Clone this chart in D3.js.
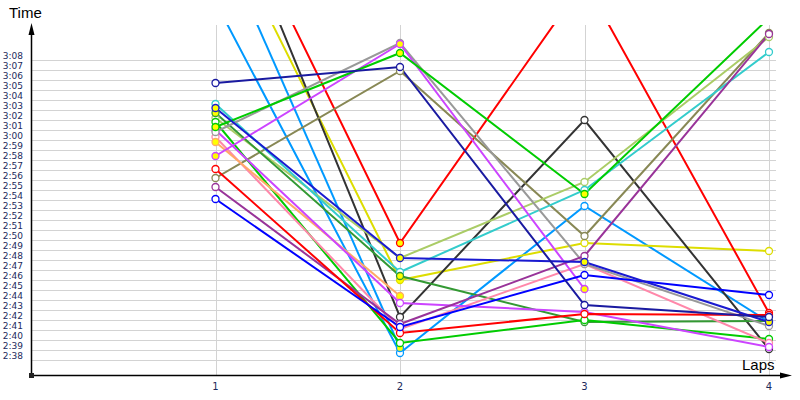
<!DOCTYPE html>
<html><head><meta charset="utf-8">
<script src="https://cdn.jsdelivr.net/npm/d3@7"></script>
<style>body{margin:0;background:#fff}svg{display:block}</style>
</head><body>
<svg id="c" width="800" height="400"></svg>
<script>
// categories
const laps = [1, 2, 3, 4];
// y ticks (seconds) 2:38 .. 3:08
const yTickSeconds = d3.range(158, 189);
// series lap times in seconds (null = no lap)
const navy       = [185.7, 187.3, 163.5, 162.3];
const blue2      = [183.2, 168.2, 167.8, 161.8];
const blue       = [174.1, 161.3, 166.5, 164.5];
const redA       = [207.4, 169.7, 195.9, 162.7];
const redB       = [177.1, 160.7, 162.6, 162.5];
const greenA     = [181.3, 188.7, 174.6, 192.2];
const greenB     = [181.8, 159.7, 162.0, 160.1];
const darkGreen  = [182.7, 166.4, 161.8, 161.9];
const yellow     = [203.0, 166.0, 169.7, 168.9];
const lightGreen = [182.2, 168.2, 175.8, 190.3];
const olive      = [176.2, 186.9, 170.4, 190.7];
const cyan       = [183.6, 166.8, 175.0, 188.8];
const lightBlueA = [193.8, 158.7, 173.4, 161.8];
const lightBlueB = [201.0, 159.2, null, null];
const gray       = [180.8, 189.7, 167.6, 161.4];
const magentaA   = [178.4, 189.6, 165.1, null];
const magentaB   = [181.0, 163.7, 162.8, 159.3];
const purple     = [175.3, 161.6, 168.4, 190.6];
const pink       = [180.3, 161.1, 167.6, 159.7];
const orange     = [179.8, 164.4, null, null];
const black      = [207.3, 162.3, 182.0, 159.1];
// laps marked with a yellow-filled marker (lap numbers)
const hlNavy = [], hlBlue2 = [1,2,3,4], hlGreenA = [1,2,3], hlDarkGreen = [1,2], hlMagentaA = [1,2,3],
      hlOrange = [1,2], hlRedA = [2], hlYellow = [2], hlLightBlueB = [2];

const series = [
  {v: lightBlueA, c: "#0099ff", hl: []},
  {v: lightBlueB, c: "#0099ff", hl: hlLightBlueB},
  {v: yellow, c: "#dddd00", hl: hlYellow},
  {v: black, c: "#333333", hl: []},
  {v: redA, c: "#ff0000", hl: hlRedA},
  {v: olive, c: "#888855", hl: []},
  {v: lightGreen, c: "#aacc66", hl: []},
  {v: cyan, c: "#33cccc", hl: []},
  {v: darkGreen, c: "#339933", hl: hlDarkGreen},
  {v: greenB, c: "#00cc00", hl: []},
  {v: pink, c: "#ff88aa", hl: []},
  {v: orange, c: "#ffaa66", hl: hlOrange},
  {v: magentaB, c: "#cc44ff", hl: []},
  {v: gray, c: "#999999", hl: []},
  {v: magentaA, c: "#cc44ff", hl: hlMagentaA},
  {v: greenA, c: "#00cc00", hl: hlGreenA},
  {v: purple, c: "#993399", hl: []},
  {v: redB, c: "#ff0000", hl: []},
  {v: blue, c: "#0000ff", hl: []},
  {v: blue2, c: "#1a1ad0", hl: hlBlue2},
  {v: navy, c: "#1a1aa0", hl: hlNavy}
];

const svg = d3.select("#c");
const x = d3.scaleLinear().domain([0, 4]).range([31, 769]);
const y = d3.scaleLinear().domain([158, 188]).range([360, 60]);
const fmt = s => Math.floor(s / 60) + ":" + String(s % 60).padStart(2, "0");

svg.append("defs").append("clipPath").attr("id", "clip")
  .append("rect").attr("x", 31).attr("y", 25).attr("width", 760).attr("height", 350);

// horizontal gridlines
svg.append("g").selectAll("line").data(yTickSeconds).join("line")
  .attr("x1", 31).attr("x2", 776).attr("y1", d => y(d)).attr("y2", d => y(d))
  .attr("stroke", "#d3d3d3").attr("stroke-width", 1).attr("shape-rendering", "crispEdges");
// vertical gridlines
svg.append("g").selectAll("line").data(laps).join("line")
  .attr("x1", d => Math.round(x(d)) + 0.5).attr("x2", d => Math.round(x(d)) + 0.5)
  .attr("y1", 25).attr("y2", 375)
  .attr("stroke", "#d3d3d3").attr("stroke-width", 1);

// y labels
svg.append("g").selectAll("text").data(yTickSeconds).join("text")
  .attr("x", 23).attr("y", d => y(d) - 1).attr("text-anchor", "end")
  .attr("font-family", "DejaVu Sans, Verdana, sans-serif").attr("font-size", 9)
  .attr("fill", "#1c2a5c").text(fmt);
// x labels
svg.append("g").selectAll("text").data(laps).join("text")
  .attr("x", d => x(d)).attr("y", 390).attr("text-anchor", "middle")
  .attr("font-family", "DejaVu Sans, Verdana, sans-serif").attr("font-size", 10)
  .attr("fill", "#1c2a5c").text(d => d);

// series
const plot = svg.append("g").attr("clip-path", "url(#clip)");
const line = d3.line().defined(d => d.t != null).x(d => x(d.lap)).y(d => y(d.t));
series.forEach(s => {
  const pts = laps.map((lap, i) => ({lap, t: s.v[i]}));
  plot.append("path").datum(pts).attr("d", line)
    .attr("fill", "none").attr("stroke", s.c).attr("stroke-width", 2);
});
series.forEach(s => {
  const pts = laps.map((lap, i) => ({lap, t: s.v[i]})).filter(d => d.t != null);
  plot.append("g").selectAll("circle").data(pts).join("circle")
    .attr("cx", d => x(d.lap)).attr("cy", d => y(d.t)).attr("r", 3.5)
    .attr("fill", d => s.hl.includes(d.lap) ? "#ffff00" : "#ffffff")
    .attr("stroke", s.c).attr("stroke-width", 1.3);
});

// axes
svg.append("line").attr("x1", 31.5).attr("x2", 31.5).attr("y1", 30).attr("y2", 375)
  .attr("stroke", "#000").attr("stroke-width", 1.5);
svg.append("line").attr("x1", 31).attr("x2", 785).attr("y1", 375.5).attr("y2", 375.5)
  .attr("stroke", "#000").attr("stroke-width", 1.5);
svg.append("path").attr("d", "M31.5,23 L28.5,35 L34.5,35 Z").attr("fill", "#000");
svg.append("path").attr("d", "M792,375.5 L780,372.5 L780,378.5 Z").attr("fill", "#000");
svg.append("rect").attr("x", 29).attr("y", 373).attr("width", 5).attr("height", 5).attr("fill", "#222");

svg.append("text").attr("x", 9).attr("y", 18).attr("font-family", "Liberation Sans, Arial, sans-serif")
  .attr("font-size", 15).attr("fill", "#000").text("Time");
svg.append("text").attr("x", 742).attr("y", 370).attr("font-family", "Liberation Sans, Arial, sans-serif")
  .attr("font-size", 15).attr("fill", "#000").text("Laps");
</script>
</body></html>
